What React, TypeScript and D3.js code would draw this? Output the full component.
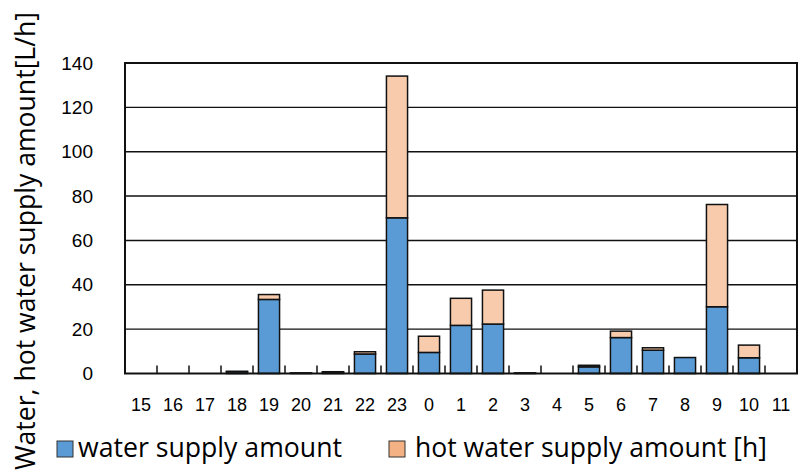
import React from "react";
import * as d3 from "d3";

const hours = ["15","16","17","18","19","20","21","22","23","0","1","2","3","4","5","6","7","8","9","10","11"];
const waterSupply = [0, 0, 0, 0.8, 33.4, 0.3, 0.6, 8.8, 70.2, 9.5, 21.7, 22.3, 0.3, 0, 3.0, 16.2, 10.5, 7.2, 30.1, 7.1, 0];
const hotWaterSupply = [0, 0, 0, 0.2, 2.2, 0, 0.2, 1.0, 63.9, 7.3, 12.2, 15.3, 0, 0, 0.7, 2.9, 1.1, 0, 46.1, 5.7, 0];
const yTicks = [0, 20, 40, 60, 80, 100, 120, 140];
const seriesNames = ["water supply amount", "hot water supply amount [h]"];
const yTitle = "Water, hot water supply amount[L/h]";

const W = 800, H = 473;
const left = 125, right = 797, top = 63, bottom = 373.5;
const colors = ["#5B9BD5", "#F8CBAD"];

export default function App() {
  const x = d3.scaleBand<string>().domain(hours).range([left, right]).paddingInner(0.34).paddingOuter(0.17);
  const y = d3.scaleLinear().domain([0, 140]).range([bottom, top]);
  const rows = hours.map((h, i) => ({ h, water: waterSupply[i], hot: hotWaterSupply[i] }));
  const stacked = d3.stack<any>().keys(["water", "hot"])(rows);
  const step = x.step();
  const boundaries = d3.range(1, hours.length).map((i) => left + i * step);

  return (
    <svg width={W} height={H} style={{ position: "absolute", left: 0, top: 0, background: "#fff" }}>
      {yTicks.filter((t) => t > 0 && t < 140).map((t) => (
        <line key={t} x1={left} x2={right} y1={y(t)} y2={y(t)} stroke="#111" strokeWidth={1.4} />
      ))}
      {stacked.map((s, si) =>
        s.map((d, i) => {
          const h = y(d[0]) - y(d[1]);
          if (h <= 0) return null;
          return (
            <rect key={si + "-" + i} x={x(hours[i])} y={y(d[1])} width={x.bandwidth()} height={h}
              fill={colors[si]} stroke="#111" strokeWidth={1.5} />
          );
        })
      )}
      {boundaries.map((bx, i) => (
        <line key={i} x1={bx} x2={bx} y1={bottom} y2={bottom - 8} stroke="#111" strokeWidth={1.5} />
      ))}
      <rect x={left} y={top} width={right - left} height={bottom - top} fill="none" stroke="#111" strokeWidth={2} />
      {yTicks.map((t) => (
        <text key={t} x={93} y={y(t)} dy="0.35em" textAnchor="end" fontFamily="Liberation Sans, Arial, sans-serif" fontSize={19} fill="#000">{t}</text>
      ))}
      {hours.map((h) => (
        <text key={h} x={(x(h) as number) + x.bandwidth() / 2} y={405} dy="0.35em" textAnchor="middle" fontFamily="Liberation Sans, Arial, sans-serif" fontSize={18} fill="#000">{h}</text>
      ))}
      <text transform={`translate(35,241) rotate(-90)`} textAnchor="middle" fontFamily="Open Sans, sans-serif" fontSize={27} textLength={458} lengthAdjust="spacingAndGlyphs" fill="#000">{yTitle}</text>
      <rect x={57} y={441} width={16} height={16} fill={colors[0]} stroke="#333" strokeWidth={1} />
      <text x={78} y={457} fontFamily="Open Sans, sans-serif" fontSize={28} textLength={264} lengthAdjust="spacingAndGlyphs" fill="#000">{seriesNames[0]}</text>
      <rect x={389} y={441} width={16} height={16} fill="#F4B183" stroke="#333" strokeWidth={1} />
      <text x={415} y={457} fontFamily="Open Sans, sans-serif" fontSize={28} textLength={352} lengthAdjust="spacingAndGlyphs" fill="#000">{seriesNames[1]}</text>
    </svg>
  );
}
